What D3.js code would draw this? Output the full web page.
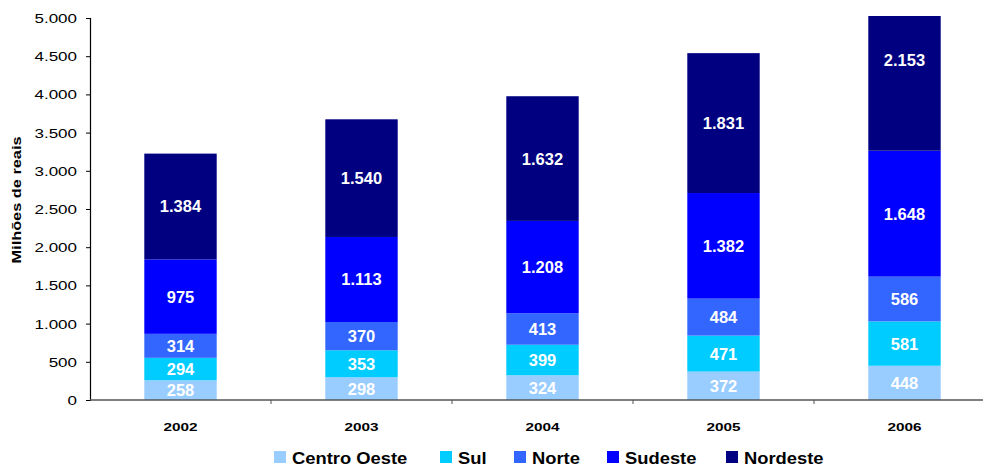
<!DOCTYPE html>
<html>
<head>
<meta charset="utf-8">
<script src="https://cdn.jsdelivr.net/npm/d3@7"></script>
<style>
  body { margin: 0; background: #fff; }
  text { font-family: "Liberation Sans", Arial, sans-serif; }
</style>
</head>
<body>
<svg id="chart" width="983" height="466"></svg>
<script>
const years = ["2002", "2003", "2004", "2005", "2006"];
const regions = ["Centro Oeste", "Sul", "Norte", "Sudeste", "Nordeste"];
const centroOeste = [258, 298, 324, 372, 448];
const sul = [294, 353, 399, 471, 581];
const norte = [314, 370, 413, 484, 586];
const sudeste = [975, 1113, 1208, 1382, 1648];
const nordeste = [1384, 1540, 1632, 1831, 2153];
const yTicks = [0, 500, 1000, 1500, 2000, 2500, 3000, 3500, 4000, 4500, 5000];
const colors = ["#99ccff", "#00ccff", "#3366ff", "#0000ff", "#000080"];

const series = [centroOeste, sul, norte, sudeste, nordeste];
const rows = years.map((y, i) => {
  const r = { year: y };
  regions.forEach((k, j) => (r[k] = series[j][i]));
  return r;
});
const stacked = d3.stack().keys(regions)(rows);

const svg = d3.select("#chart");
const fmt = (v) => d3.format(",")(v).replace(/,/g, ".");

// widen text horizontally, like the original rendering
const stretch = (sel, f) =>
  sel.each(function () {
    const w = this.getComputedTextLength();
    d3.select(this).attr("textLength", w * f).attr("lengthAdjust", "spacingAndGlyphs");
  });

const x = d3.scaleBand().domain(years).range([90, 995]).paddingInner(0.6).paddingOuter(0.3);
const y = d3.scaleLinear().domain([0, 5000]).range([400, 18]);
const yMax = y.domain()[1];

svg.append("clipPath").attr("id", "plot")
  .append("rect").attr("x", 90).attr("y", 16).attr("width", 905).attr("height", 384);

// bars
const layer = svg.append("g")
  .selectAll("g")
  .data(stacked)
  .join("g")
  .attr("fill", (d, i) => colors[i]);

layer.selectAll("rect")
  .data((d) => d)
  .join("rect")
  .attr("clip-path", "url(#plot)")
  .attr("x", (d) => x(d.data.year))
  .attr("y", (d) => y(d[1]))
  .attr("width", x.bandwidth())
  .attr("height", (d) => y(d[0]) - y(d[1]));

layer.selectAll("text")
  .data((d) => d)
  .join("text")
  .attr("x", (d) => x(d.data.year) + x.bandwidth() / 2)
  .attr("y", (d) => (y(d[0]) + y(d[1])) / 2 + 6 - (d[1] > yMax ? 8 : 0))
  .attr("text-anchor", "middle")
  .attr("fill", "#fff")
  .style("font-size", "16.5px")
  .style("font-weight", "bold")
  .text((d) => fmt(d[1] - d[0]));

// y axis
const yAxis = svg.append("g")
  .attr("transform", "translate(90,0)")
  .call(d3.axisLeft(y).tickValues(yTicks).tickSize(4).tickPadding(9).tickFormat(fmt));
yAxis.select(".domain").attr("stroke", "#000").attr("stroke-width", 1.2);
yAxis.selectAll(".tick line").attr("stroke", "#000");
yAxis.selectAll(".tick text")
  .attr("fill", "#000")
  .attr("dy", "0.36em")
  .style("font-size", "12.5px")
  .style("font-family", "'Liberation Sans', Arial, sans-serif")
  .call(stretch, 1.36);

// x axis with ticks between categories
const xAxis = svg.append("g").attr("transform", "translate(0,400)");
xAxis.append("line")
  .attr("x1", 90).attr("x2", 995)
  .attr("stroke", "#555").attr("stroke-width", 1.5);
const step = x.step();
xAxis.selectAll(".sep")
  .data(years.slice(1))
  .join("line")
  .attr("x1", (d) => x(d) + x.bandwidth() / 2 - step / 2)
  .attr("x2", (d) => x(d) + x.bandwidth() / 2 - step / 2)
  .attr("y1", 0).attr("y2", 4)
  .attr("stroke", "#555");
xAxis.selectAll(".lbl")
  .data(years)
  .join("text")
  .attr("x", (d) => x(d) + x.bandwidth() / 2)
  .attr("y", 31)
  .attr("text-anchor", "middle")
  .style("font-size", "11.5px")
  .style("font-weight", "bold")
  .text((d) => d)
  .call(stretch, 1.33);

// y title
svg.append("text")
  .attr("transform", "translate(21,200) rotate(-90)")
  .attr("text-anchor", "middle")
  .style("font-size", "12px")
  .style("font-weight", "bold")
  .text("Milhões de reais")
  .call(stretch, 1.36);

// legend
const legendX = [274, 440, 514, 607, 726];
const legend = svg.append("g")
  .selectAll("g")
  .data(regions)
  .join("g")
  .attr("transform", (d, i) => `translate(${legendX[i]},451)`);
legend.append("rect")
  .attr("width", 12).attr("height", 12)
  .attr("fill", (d, i) => colors[i]);
legend.append("text")
  .attr("x", 18).attr("y", 12.5)
  .style("font-size", "17px")
  .style("font-weight", "bold")
  .text((d) => d)
  .call(stretch, 1.08);
</script>
</body>
</html>
